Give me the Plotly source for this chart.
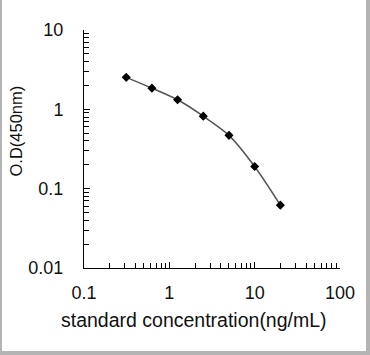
import plotly.graph_objects as go

conc = [0.3125, 0.625, 1.25, 2.5, 5, 10, 20]
od = [2.53, 1.85, 1.32, 0.82, 0.47, 0.19, 0.062]

x_ticks = [0.1, 1, 10, 100]
x_tick_labels = ["0.1", "1", "10", "100"]
y_ticks = [0.01, 0.1, 1, 10]
y_tick_labels = ["0.01", "0.1", "1", "10"]
x_title = "standard concentration(ng/mL)"
y_title = "O.D(450nm)"

W, H = 370, 355
L, R, T, B = 84, 30, 30, 87
pw = W - L - R
ph = H - T - B

fig = go.Figure()
fig.add_trace(go.Scatter(
    x=conc, y=od, mode="lines",
    line=dict(color="#555555", width=1.5, shape="spline", smoothing=0.8),
    hoverinfo="skip", showlegend=False))
fig.add_trace(go.Scatter(
    x=conc, y=od, mode="markers",
    marker=dict(symbol="diamond", size=7, color="black"),
    showlegend=False))

font = dict(family="Liberation Sans, Arial, sans-serif", size=18, color="#111111")

fig.update_layout(
    width=W, height=H,
    margin=dict(l=L, r=R, t=T, b=B),
    paper_bgcolor="white", plot_bgcolor="white",
    font=font,
    xaxis=dict(type="log", range=[-1, 2], showgrid=False, zeroline=False,
               showline=True, linecolor="black", linewidth=1,
               tickmode="array", tickvals=x_ticks, ticktext=x_tick_labels,
               ticks="inside", ticklen=6, tickcolor="black",
               minor=dict(ticks="inside", ticklen=5, tickcolor="black",
                          dtick="D1", showgrid=False),
               ticklabelstandoff=8),
    yaxis=dict(type="log", range=[-2, 1], showgrid=False, zeroline=False,
               showline=True, linecolor="black", linewidth=1,
               tickmode="array", tickvals=y_ticks, ticktext=y_tick_labels,
               ticks="inside", ticklen=6, tickcolor="black",
               minor=dict(ticks="inside", ticklen=5, tickcolor="black",
                          dtick="D1", showgrid=False),
               ticklabelstandoff=16),
)

# axis titles placed as annotations (pixel offsets relative to plot area)
fig.add_annotation(text=x_title, xref="paper", yref="paper",
                   x=(193.5 - L) / pw, y=-(320 - T - ph) / ph,
                   xanchor="center", yanchor="middle", showarrow=False,
                   font=dict(size=19.5))
fig.add_annotation(text=y_title, xref="paper", yref="paper",
                   x=(15 - L) / pw, y=(H - B - 131.5) / ph,
                   xanchor="center", yanchor="middle", showarrow=False,
                   textangle=-90, font=dict(size=16.5))

# image frame
fig.add_shape(type="rect", xref="paper", yref="paper",
              x0=(0 - L + 1) / pw, x1=(W - L - 2) / pw,
              y0=-(H - T - ph - 2) / ph, y1=(H - T - 1) / ph,
              line=dict(color="#b4b4b4", width=2), fillcolor="rgba(0,0,0,0)")
fig.add_shape(type="line", xref="paper", yref="paper",
              x0=(W - L - 2) / pw, x1=(W - L - 2) / pw,
              y0=-(H - T - ph - 2) / ph, y1=(H - T) / ph,
              line=dict(color="#b4b4b4", width=4))
fig.add_shape(type="line", xref="paper", yref="paper",
              x0=(0 - L) / pw, x1=(W - L) / pw,
              y0=-(H - T - ph - 2) / ph, y1=-(H - T - ph - 2) / ph,
              line=dict(color="#b4b4b4", width=4))

fig.write_html("out.html", config={"displayModeBar": False},
               post_script="document.body.style.margin='0';document.body.style.overflow='hidden';")
